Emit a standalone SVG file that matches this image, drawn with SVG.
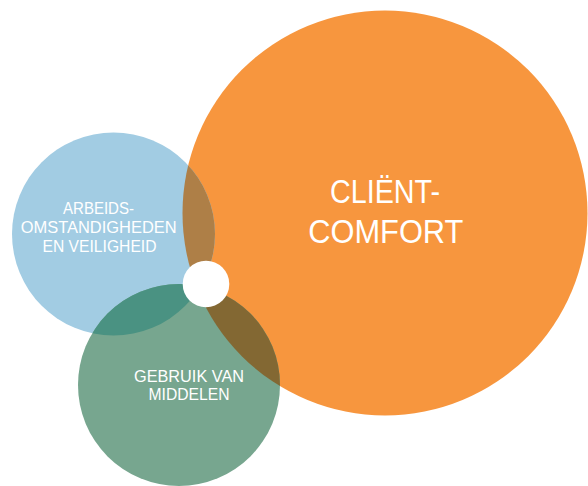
<svg xmlns="http://www.w3.org/2000/svg" width="588" height="486" viewBox="0 0 588 486">
<defs>
<style>
.lbl{font-family:"Liberation Sans",Arial,sans-serif;fill:#ffffff;text-anchor:middle}
.sm{font-size:16.4px}
.lg{font-size:32.5px}
</style>
<clipPath id="clipOrange"><circle cx="385" cy="213" r="202.5"/></clipPath>
<clipPath id="clipGreen"><circle cx="179" cy="385" r="101"/></clipPath>
</defs>
<rect width="588" height="486" fill="#ffffff"/>
<g id="node-comfort">
<circle cx="385" cy="213" r="202.5" fill="#F7963E"/>
</g>
<g id="node-arbeid">
<circle cx="113.5" cy="234" r="101.5" fill="#A2CCE3"/>
</g>
<g id="node-middelen">
<circle cx="179" cy="385" r="101" fill="#77A68F"/>
</g>
<g id="overlaps">
<circle cx="113.5" cy="234" r="101.5" fill="#AE7F47" clip-path="url(#clipOrange)"/>
<circle cx="179" cy="385" r="101" fill="#836833" clip-path="url(#clipOrange)"/>
<circle cx="113.5" cy="234" r="101.5" fill="#4A9282" clip-path="url(#clipGreen)"/>
</g>
<g id="connectors"></g>
<g id="node-center">
<circle cx="206" cy="284" r="23.3" fill="#ffffff"/>
</g>
<g id="labels">
<text class="lbl sm" x="98.5" y="213.5" textLength="71" lengthAdjust="spacingAndGlyphs">ARBEIDS-</text>
<text class="lbl sm" x="98.7" y="233.3" textLength="156" lengthAdjust="spacingAndGlyphs">OMSTANDIGHEDEN</text>
<text class="lbl sm" x="99.5" y="251.7" textLength="114" lengthAdjust="spacingAndGlyphs">EN VEILIGHEID</text>
<text class="lbl sm" x="189" y="381.7" textLength="110" lengthAdjust="spacingAndGlyphs">GEBRUIK VAN</text>
<text class="lbl sm" x="189" y="399.5" textLength="81" lengthAdjust="spacingAndGlyphs">MIDDELEN</text>
<text class="lbl lg" x="385" y="202.7" textLength="110" lengthAdjust="spacingAndGlyphs">CLIËNT-</text>
<text class="lbl lg" x="385.8" y="242.7" textLength="155" lengthAdjust="spacingAndGlyphs">COMFORT</text>
</g>
</svg>
